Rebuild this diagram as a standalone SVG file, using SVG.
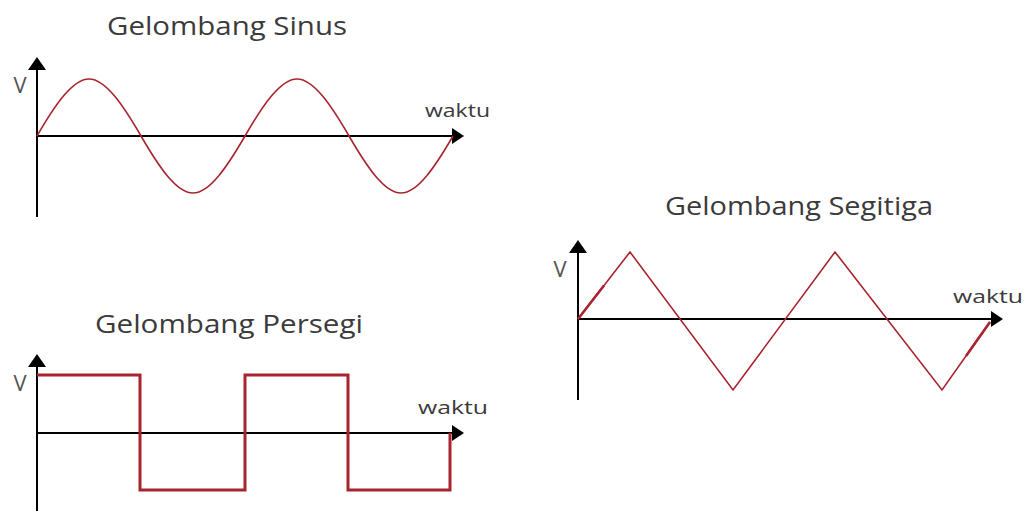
<svg xmlns="http://www.w3.org/2000/svg" width="1030" height="511" viewBox="0 0 1030 511">
<style>
.title{font-family:"Open Sans","Noto Sans",sans-serif;font-size:25px;fill:#3b3b3b}
.lbl{font-family:"Open Sans","Noto Sans",sans-serif;font-size:18px;fill:#3b3b3b}
.v{font-family:"Open Sans","Noto Sans",sans-serif;font-size:22px;fill:#555;text-anchor:middle}
.axis{stroke:#000;stroke-width:2;fill:none}
.head{fill:#000}
.wave{stroke:#a8242e;fill:none;stroke-linejoin:miter}
</style>
<rect width="1030" height="511" fill="#fff"/>
<g id="sinus">
  <text class="title" x="107" y="35" textLength="240" lengthAdjust="spacingAndGlyphs">Gelombang Sinus</text>
  <text class="v" x="20" y="93">V</text>
  <text class="lbl" x="425" y="117" textLength="65" lengthAdjust="spacingAndGlyphs">waktu</text>
  <g class="connectors">
    <line class="axis" x1="37" y1="217" x2="37" y2="68"/>
    <polygon class="head" points="37,57 28,70 46,70"/>
    <line class="axis" x1="37" y1="136" x2="453" y2="136"/>
    <polygon class="head" points="464,136 452,128 452,144"/>
  </g>
  <path class="wave" stroke-width="1.6" d="M37,136 C53.94,106.83 72.06,79 89,79 C105.94,79 124.06,106.83 141,136 C157.94,165.17 176.06,193 193,193 C209.94,193 228.06,165.17 245,136 C261.94,106.83 280.06,79 297,79 C313.94,79 332.06,106.83 349,136 C365.94,165.17 384.06,193 401,193 C417.94,193 436.06,165.17 453,136"/>
</g>
<g id="persegi">
  <text class="title" x="95" y="333" textLength="268" lengthAdjust="spacingAndGlyphs">Gelombang Persegi</text>
  <text class="v" x="20" y="391">V</text>
  <text class="lbl" x="418" y="414" textLength="70" lengthAdjust="spacingAndGlyphs">waktu</text>
  <g class="connectors">
    <line class="axis" x1="37" y1="511" x2="37" y2="365"/>
    <polygon class="head" points="37,354 28,367 46,367"/>
    <line class="axis" x1="37" y1="433" x2="453" y2="433"/>
    <polygon class="head" points="464,433 452,425 452,441"/>
  </g>
  <path class="wave" stroke-width="3" d="M37,375 H140 V490 H245 V375 H348 V490 H450 V433"/>
</g>
<g id="segitiga">
  <text class="title" x="665" y="215" textLength="268" lengthAdjust="spacingAndGlyphs">Gelombang Segitiga</text>
  <text class="v" x="560" y="277">V</text>
  <text class="lbl" x="953" y="303" textLength="70" lengthAdjust="spacingAndGlyphs">waktu</text>
  <g class="connectors">
    <line class="axis" x1="578" y1="400" x2="578" y2="251"/>
    <polygon class="head" points="578,240 569,253 587,253"/>
    <line class="axis" x1="578" y1="319" x2="992" y2="319"/>
    <polygon class="head" points="1003,319 991,311 991,327"/>
  </g>
  <path class="wave" stroke-width="1.6" d="M578,319 L630,252 L733,390 L835,252 L942,390 L990,322"/>
  <path class="wave" stroke-width="2.6" d="M578,319 L604,285.5 M966,356 L990,322"/>
</g>
</svg>
